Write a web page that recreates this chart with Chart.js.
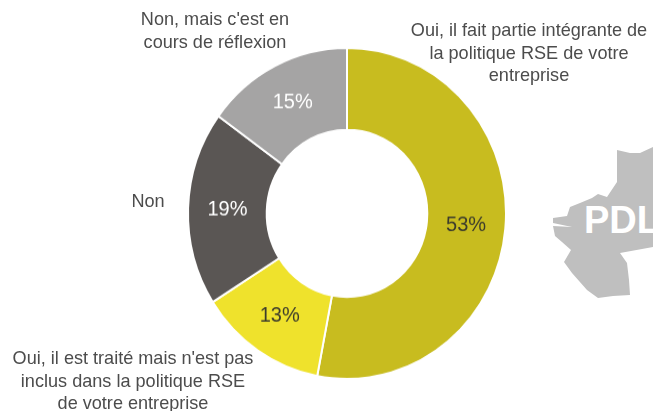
<!DOCTYPE html>
<html lang="fr">
<head>
<meta charset="utf-8">
<style>
  html, body { margin: 0; padding: 0; background: #fff; }
  #stage { position: relative; width: 653px; height: 411px; overflow: hidden; font-family: "Liberation Sans", Arial, sans-serif; }
  #map { position: absolute; left: 0; top: 0; }
  #wrap { position: absolute; left: 0; top: 0; width: 653px; height: 411px; transform-origin: 0 0; transform: scaleY(1.041); }
  .callout { position: absolute; font-size: 18.1px; line-height: 22.5px; color: #4c4c4c; text-align: center; white-space: pre; transform: translateX(-50%); }
</style>
</head>
<body>
<div id="stage">
  <svg id="map" width="653" height="411" viewBox="0 0 653 411">
    <path fill="#bfbfbf" d="M617 150 L630 153 L640 153 L653 147 L653 247 L620 253 L627 263 L629 280 L630 295 L613 296 L598 298 L587 290 L572 273 L564 262 L571 250 L562 242 L555 236 L553 226 L572 227 L553 223 L553 218 L567 216 L570 207 L580 203 L592 198 L598 194 L607 197 L617 182 Z"/>
    <text x="584" y="233" fill="#fff" font-family="Liberation Sans, Arial, sans-serif" font-weight="700" font-size="38">PDL</text>
  </svg>
  <div id="wrap"><canvas id="chart" width="653" height="411"></canvas></div>
</div>
<script src="https://cdn.jsdelivr.net/npm/chart.js@4/dist/chart.umd.min.js"></script>
<script>
// Réponses à l'enquête, dans le sens horaire depuis le haut de l'anneau
const categories = [
  "Oui, il fait partie intégrante de\nla politique RSE de votre\nentreprise",
  "Oui, il est traité mais n'est pas\ninclus dans la politique RSE\nde votre entreprise",
  "Non",
  "Non, mais c'est en\ncours de réflexion"
];
const shares = [53, 13, 19, 15];
const sliceColors = ["#c8bc1f", "#efe22c", "#5a5654", "#a5a4a4"];
const valueColors = ["#3c3c2c", "#3c3c2c", "#ffffff", "#ffffff"];

// Étiquettes de catégorie placées autour de l'anneau (centre horizontal, haut du bloc)
const calloutAnchors = [[529, 19], [133, 347], [148, 190], [215, 8]];
categories.forEach((text, i) => {
  const el = document.createElement("div");
  el.className = "callout";
  el.textContent = text;
  el.style.left = calloutAnchors[i][0] + "px";
  el.style.top = calloutAnchors[i][1] + "px";
  document.getElementById("stage").appendChild(el);
});

// Pourcentage écrit au milieu de chaque secteur
const sliceValues = {
  id: "sliceValues",
  afterDatasetsDraw(chart) {
    const { ctx } = chart;
    ctx.save();
    ctx.font = '20px "Liberation Sans", Arial, sans-serif';
    ctx.textAlign = "center";
    ctx.textBaseline = "middle";
    chart.getDatasetMeta(0).data.forEach((arc, i) => {
      const p = arc.tooltipPosition();
      ctx.fillStyle = valueColors[i];
      ctx.fillText(shares[i] + "%", p.x, p.y);
    });
    ctx.restore();
  }
};

new Chart(document.getElementById("chart"), {
  type: "doughnut",
  data: {
    labels: categories,
    datasets: [{
      data: shares,
      backgroundColor: sliceColors,
      borderColor: "#ffffff",
      borderWidth: 2
    }]
  },
  options: {
    responsive: false,
    animation: false,
    cutout: "50.5%",
    layout: { padding: { left: 187, right: 146, top: 45, bottom: 46 } },
    plugins: { legend: { display: false }, tooltip: { enabled: false } }
  },
  plugins: [sliceValues]
});
</script>
</body>
</html>
